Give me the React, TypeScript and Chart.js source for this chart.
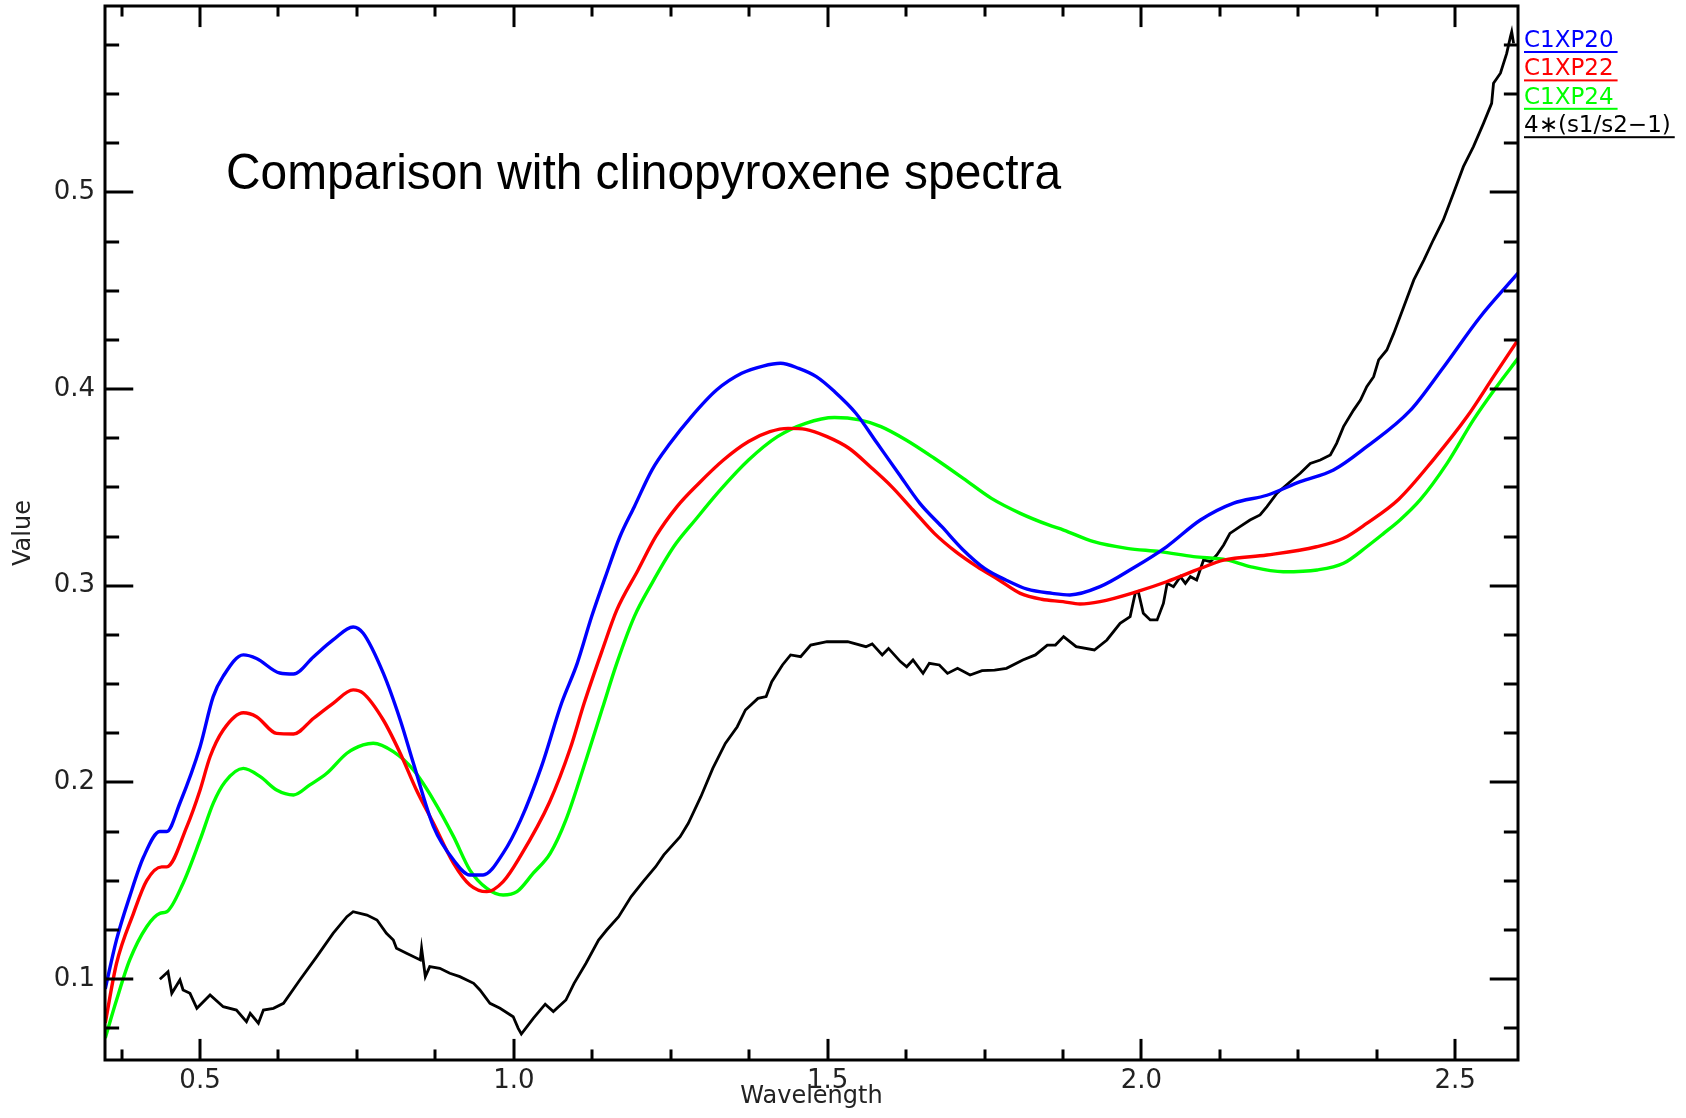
import React, { useEffect, useRef } from "react";
import { Chart, registerables } from "chart.js";

Chart.register(...registerables);

// ---------- data ----------
const c1xp20Wl = [0.349, 0.367, 0.388, 0.41, 0.436, 0.447, 0.468, 0.5, 0.521, 0.537, 0.569, 0.59, 0.627, 0.649, 0.681, 0.712, 0.744, 0.76, 0.792, 0.819, 0.84, 0.872, 0.904, 0.93, 0.951, 0.983, 1.011, 1.044, 1.076, 1.101, 1.124, 1.146, 1.169, 1.192, 1.22, 1.249, 1.283, 1.323, 1.363, 1.397, 1.425, 1.454, 1.482, 1.511, 1.545, 1.579, 1.613, 1.647, 1.682, 1.716, 1.75, 1.784, 1.818, 1.858, 1.886, 1.934, 1.987, 2.04, 2.094, 2.147, 2.2, 2.253, 2.306, 2.359, 2.428, 2.481, 2.54, 2.6];
const c1xp20Val = [0.095, 0.12, 0.142, 0.162, 0.175, 0.175, 0.1895, 0.218, 0.2436, 0.254, 0.2648, 0.263, 0.2556, 0.2551, 0.2639, 0.2724, 0.279, 0.2758, 0.2555, 0.2317, 0.2097, 0.1775, 0.1605, 0.1529, 0.1529, 0.164, 0.1809, 0.208, 0.2402, 0.2605, 0.2843, 0.3046, 0.3249, 0.3402, 0.3588, 0.3724, 0.386, 0.3995, 0.408, 0.4117, 0.4131, 0.4105, 0.4063, 0.3987, 0.3877, 0.3724, 0.3571, 0.3419, 0.33, 0.3182, 0.3088, 0.3029, 0.2982, 0.2961, 0.2953, 0.2995, 0.309, 0.3198, 0.3334, 0.342, 0.346, 0.3529, 0.3588, 0.3707, 0.389, 0.411, 0.4368, 0.4589];

const c1xp22Wl = [0.349, 0.367, 0.394, 0.415, 0.439, 0.447, 0.479, 0.5, 0.516, 0.537, 0.569, 0.59, 0.622, 0.649, 0.681, 0.712, 0.744, 0.76, 0.792, 0.819, 0.845, 0.872, 0.904, 0.93, 0.957, 0.983, 1.01, 1.057, 1.09, 1.112, 1.141, 1.164, 1.198, 1.226, 1.26, 1.295, 1.334, 1.374, 1.408, 1.437, 1.465, 1.499, 1.534, 1.568, 1.602, 1.636, 1.67, 1.704, 1.738, 1.773, 1.807, 1.841, 1.875, 1.902, 1.934, 1.993, 2.04, 2.094, 2.131, 2.2, 2.279, 2.322, 2.359, 2.41, 2.465, 2.519, 2.561, 2.6];
const c1xp22Val = [0.0776, 0.108, 0.1334, 0.15, 0.157, 0.157, 0.1775, 0.196, 0.213, 0.2266, 0.2354, 0.2334, 0.2249, 0.2246, 0.2326, 0.2402, 0.247, 0.2453, 0.2317, 0.2148, 0.196, 0.1792, 0.1588, 0.1478, 0.1444, 0.1495, 0.1622, 0.19, 0.2173, 0.2402, 0.2673, 0.2876, 0.308, 0.3249, 0.3402, 0.3521, 0.3639, 0.3733, 0.3783, 0.38, 0.3795, 0.3758, 0.3699, 0.3605, 0.3504, 0.3385, 0.3266, 0.3173, 0.3097, 0.3029, 0.2961, 0.2931, 0.2919, 0.2907, 0.2919, 0.297, 0.302, 0.3088, 0.313, 0.3156, 0.3198, 0.3241, 0.3317, 0.344, 0.364, 0.386, 0.4063, 0.425];

const c1xp24Wl = [0.349, 0.367, 0.388, 0.415, 0.436, 0.447, 0.473, 0.5, 0.521, 0.54, 0.569, 0.596, 0.622, 0.649, 0.675, 0.702, 0.734, 0.76, 0.776, 0.808, 0.84, 0.872, 0.904, 0.93, 0.957, 0.983, 1.005, 1.031, 1.058, 1.083, 1.115, 1.141, 1.164, 1.192, 1.22, 1.255, 1.289, 1.329, 1.374, 1.42, 1.465, 1.511, 1.551, 1.585, 1.625, 1.67, 1.716, 1.761, 1.807, 1.852, 1.876, 1.924, 1.977, 2.03, 2.083, 2.136, 2.173, 2.226, 2.28, 2.322, 2.359, 2.386, 2.412, 2.444, 2.487, 2.529, 2.566, 2.6];
const c1xp24Val = [0.07, 0.0893, 0.1097, 0.1266, 0.1334, 0.1342, 0.1487, 0.1707, 0.1893, 0.2003, 0.2071, 0.2029, 0.1961, 0.1936, 0.1987, 0.2046, 0.2148, 0.219, 0.2199, 0.2156, 0.2063, 0.191, 0.1724, 0.1554, 0.1461, 0.1427, 0.1444, 0.1538, 0.1639, 0.1809, 0.2114, 0.2375, 0.2605, 0.2843, 0.3012, 0.3199, 0.3334, 0.3487, 0.3639, 0.3758, 0.3826, 0.3855, 0.3843, 0.3809, 0.3741, 0.3648, 0.3546, 0.3444, 0.3368, 0.3309, 0.3283, 0.3224, 0.319, 0.3173, 0.3148, 0.3131, 0.3097, 0.3071, 0.308, 0.3114, 0.3198, 0.3266, 0.3334, 0.3436, 0.3622, 0.3843, 0.4012, 0.4156];

const ratioWl = [0.436, 0.449, 0.455, 0.468, 0.473, 0.484, 0.495, 0.516, 0.537, 0.558, 0.574, 0.58, 0.593, 0.601, 0.617, 0.633, 0.659, 0.686, 0.712, 0.734, 0.744, 0.766, 0.782, 0.797, 0.808, 0.813, 0.829, 0.851, 0.853, 0.859, 0.866, 0.882, 0.898, 0.914, 0.936, 0.946, 0.962, 0.978, 0.999, 1.007, 1.012, 1.031, 1.05, 1.063, 1.083, 1.096, 1.115, 1.135, 1.148, 1.167, 1.187, 1.206, 1.226, 1.239, 1.265, 1.278, 1.298, 1.317, 1.337, 1.356, 1.369, 1.389, 1.402, 1.411, 1.428, 1.441, 1.457, 1.473, 1.499, 1.532, 1.561, 1.571, 1.587, 1.597, 1.616, 1.626, 1.636, 1.652, 1.662, 1.678, 1.691, 1.707, 1.727, 1.746, 1.766, 1.785, 1.811, 1.831, 1.85, 1.863, 1.876, 1.896, 1.925, 1.945, 1.966, 1.982, 1.99, 1.995, 2.003, 2.014, 2.025, 2.035, 2.041, 2.051, 2.062, 2.07, 2.078, 2.088, 2.099, 2.11, 2.12, 2.131, 2.141, 2.157, 2.173, 2.189, 2.2, 2.216, 2.237, 2.253, 2.269, 2.285, 2.301, 2.311, 2.322, 2.338, 2.349, 2.359, 2.37, 2.378, 2.391, 2.402, 2.418, 2.434, 2.45, 2.465, 2.481, 2.497, 2.513, 2.529, 2.545, 2.558, 2.561, 2.572, 2.582, 2.588, 2.59, 2.593];
const ratioVal = [0.0999, 0.1037, 0.0927, 0.0995, 0.0944, 0.0927, 0.0851, 0.0919, 0.0859, 0.0842, 0.0783, 0.0825, 0.0775, 0.0842, 0.0851, 0.0876, 0.0995, 0.1114, 0.1232, 0.1317, 0.1342, 0.1325, 0.13, 0.1232, 0.1198, 0.1156, 0.1131, 0.1097, 0.1156, 0.1012, 0.1063, 0.1054, 0.1029, 0.1012, 0.0978, 0.0944, 0.0876, 0.0851, 0.0808, 0.0749, 0.072, 0.08, 0.0872, 0.0834, 0.0893, 0.0978, 0.108, 0.1198, 0.1249, 0.1317, 0.1419, 0.1495, 0.1571, 0.1631, 0.1724, 0.1792, 0.1927, 0.2071, 0.2198, 0.2283, 0.2368, 0.2427, 0.2436, 0.2512, 0.2597, 0.2648, 0.2639, 0.2698, 0.2715, 0.2715, 0.269, 0.2704, 0.2648, 0.2681, 0.2614, 0.2588, 0.2622, 0.2554, 0.2605, 0.2597, 0.2554, 0.258, 0.2546, 0.2568, 0.2571, 0.258, 0.2622, 0.2648, 0.2698, 0.2698, 0.2741, 0.269, 0.2673, 0.2724, 0.2809, 0.2843, 0.2961, 0.297, 0.286, 0.2826, 0.2826, 0.291, 0.3012, 0.2995, 0.3046, 0.3012, 0.3046, 0.3029, 0.3131, 0.3122, 0.3156, 0.3207, 0.3266, 0.33, 0.3334, 0.336, 0.3402, 0.347, 0.3529, 0.3572, 0.3622, 0.3639, 0.3665, 0.3724, 0.3809, 0.3893, 0.3944, 0.4012, 0.4063, 0.4148, 0.4199, 0.4283, 0.4419, 0.4555, 0.4656, 0.4758, 0.486, 0.4995, 0.5131, 0.5233, 0.5351, 0.5453, 0.5555, 0.5606, 0.5707, 0.5792, 0.5817, 0.5758];

const seriesNames = ["C1XP20", "C1XP22", "C1XP24", "4\u2217(s1/s2\u22121)"];
const seriesColors = ["#0000ff", "#ff0000", "#00ff00", "#000000"];
const xMajorTicks = [0.5, 1.0, 1.5, 2.0, 2.5];
const yMajorTicks = [0.1, 0.2, 0.3, 0.4, 0.5];
const xMinorStep = 0.125;
const yMinorStep = 0.025;
const xRange = [0.3486, 2.6];
const yRange = [0.0588, 0.5948];
const xTitle = "Wavelength";
const yTitle = "Value";
const annotation = "Comparison with clinopyroxene spectra";

const W = 1686;
const H = 1118;
const LABEL_FONT = '"DejaVu Sans", sans-serif';

const zip = (xs: number[], ys: number[]) => xs.map((x, i) => ({ x, y: ys[i] }));

const idlPlugin = {
  id: "idlFrame",
  afterDatasetsDraw(chart: any) {
    const { ctx, chartArea: a, scales } = chart;
    const xs = scales.x;
    const ys = scales.y;
    const w = a.right - a.left;
    const h = a.bottom - a.top;
    ctx.save();
    ctx.strokeStyle = "#000";
    ctx.lineWidth = 3;
    ctx.lineCap = "butt";
    ctx.strokeRect(a.left, a.top, w, h);
    const seg = (x1: number, y1: number, x2: number, y2: number) => {
      ctx.beginPath();
      ctx.moveTo(x1, y1);
      ctx.lineTo(x2, y2);
      ctx.stroke();
    };
    const xMaj = 0.02 * h;
    const yMaj = 0.02 * w;
    for (let k = Math.ceil(xs.min / xMinorStep); k * xMinorStep <= xs.max + 1e-9; k++) {
      const v = k * xMinorStep;
      const major = xMajorTicks.some((m) => Math.abs(m - v) < 1e-6);
      const len = major ? xMaj : xMaj / 2;
      const px = Math.round(xs.getPixelForValue(v));
      seg(px, a.bottom, px, a.bottom - len);
      seg(px, a.top, px, a.top + len);
    }
    for (let k = Math.ceil(ys.min / yMinorStep); k * yMinorStep <= ys.max + 1e-9; k++) {
      const v = k * yMinorStep;
      const major = yMajorTicks.some((m) => Math.abs(m - v) < 1e-6);
      const len = major ? yMaj : yMaj / 2;
      const py = Math.round(ys.getPixelForValue(v));
      seg(a.left, py, a.left + len, py);
      seg(a.right, py, a.right - len, py);
    }
    ctx.restore();
  },
  afterDraw(chart: any) {
    const { ctx, chartArea: a } = chart;
    ctx.save();
    // annotation text inside the plot
    ctx.font = '50px "Liberation Sans", Arial, sans-serif';
    ctx.fillStyle = "#000";
    ctx.textBaseline = "alphabetic";
    ctx.textAlign = "left";
    const tw = ctx.measureText(annotation).width;
    const sx = 835 / tw;
    ctx.translate(226, 189);
    ctx.scale(sx, 1);
    ctx.fillText(annotation, 0, 0);
    ctx.restore();

    // legend to the right of the plot
    ctx.save();
    ctx.font = "23px " + LABEL_FONT;
    ctx.textBaseline = "alphabetic";
    ctx.textAlign = "left";
    const lx = a.right + 6;
    seriesNames.forEach((name, i) => {
      const by = 47 + i * 28.4;
      ctx.fillStyle = seriesColors[i];
      ctx.fillText(name, lx, by);
      const lw = ctx.measureText(name).width;
      ctx.fillRect(lx, by + 4, lw + 4, 2);
    });
    ctx.restore();
  },
};

export default function App() {
  const ref = useRef<HTMLCanvasElement | null>(null);
  useEffect(() => {
    const canvas = ref.current;
    if (!canvas) return;
    const data = [
      zip(c1xp20Wl, c1xp20Val),
      zip(c1xp22Wl, c1xp22Val),
      zip(c1xp24Wl, c1xp24Val),
      zip(ratioWl, ratioVal),
    ];
    const chart = new Chart(canvas, {
      type: "line",
      data: {
        datasets: data.map((d, i) => ({
          label: seriesNames[i],
          data: d,
          borderColor: seriesColors[i],
          backgroundColor: seriesColors[i],
          borderWidth: i === 3 ? 2.8 : 3.4,
          pointRadius: 0,
          fill: false,
          tension: 0,
          cubicInterpolationMode: i === 3 ? "default" : "monotone",
        })),
      },
      options: {
        responsive: false,
        animation: false,
        devicePixelRatio: 1,
        layout: { padding: { left: 0, top: 6, right: W - 1518, bottom: 0 } },
        plugins: { legend: { display: false }, tooltip: { enabled: false }, title: { display: false } },
        scales: {
          x: {
            type: "linear",
            min: xRange[0],
            max: xRange[1],
            grid: { display: false, drawTicks: false },
            border: { display: false },
            afterBuildTicks: (s: any) => {
              s.ticks = xMajorTicks.map((v) => ({ value: v }));
            },
            afterFit: (s: any) => {
              s.height = H - 1060;
              s.paddingLeft = 0;
              s.paddingRight = 0;
            },
            ticks: {
              padding: 6,
              maxRotation: 0,
              autoSkip: false,
              color: "#222",
              font: { family: LABEL_FONT, size: 26 },
              callback: (v: any) => Number(v).toFixed(1),
            },
            title: {
              display: true,
              text: xTitle,
              color: "#222",
              font: { family: LABEL_FONT, size: 24 },
              padding: { top: 0, bottom: 7 },
            },
          },
          y: {
            type: "linear",
            min: yRange[0],
            max: yRange[1],
            grid: { display: false, drawTicks: false },
            border: { display: false },
            afterBuildTicks: (s: any) => {
              s.ticks = yMajorTicks.map((v) => ({ value: v }));
            },
            afterFit: (s: any) => {
              s.width = 105;
              s.paddingTop = 0;
              s.paddingBottom = 0;
            },
            ticks: {
              padding: 10,
              autoSkip: false,
              color: "#222",
              font: { family: LABEL_FONT, size: 26 },
              callback: (v: any) => Number(v).toFixed(1),
            },
            title: {
              display: true,
              text: yTitle,
              color: "#222",
              font: { family: LABEL_FONT, size: 24 },
              padding: { top: 9, bottom: 0 },
            },
          },
        },
      },
      plugins: [idlPlugin],
    } as any);
    return () => chart.destroy();
  }, []);

  return (
    <div style={{ position: "absolute", left: 0, top: 0, width: W, height: H, background: "#fff" }}>
      <canvas ref={ref} width={W} height={H} style={{ display: "block", width: W, height: H }} />
    </div>
  );
}
